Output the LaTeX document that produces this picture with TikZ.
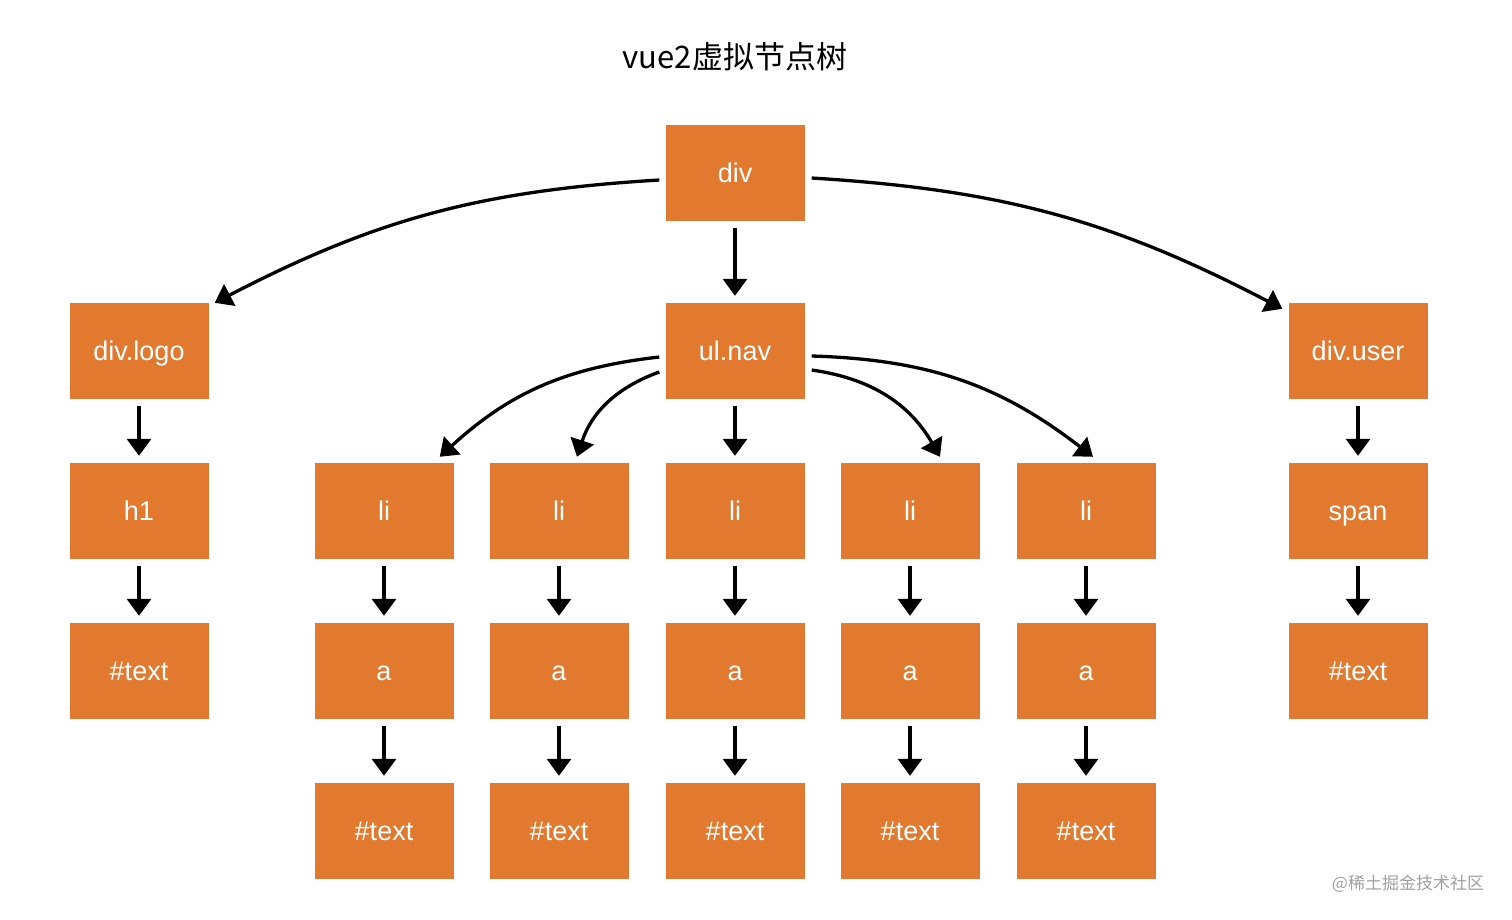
\documentclass[tikz,border=0pt]{standalone}
\usepackage{fontspec}
\setmainfont{Liberation Sans}
\newfontfamily\cjk{Noto Sans CJK SC}
\usepackage{tikz}
\usetikzlibrary{arrows.meta}

\definecolor{vnode}{RGB}{225,121,47}
\definecolor{mark}{RGB}{160,160,160}

\tikzset{
  vbox/.style={fill=vnode, text=white, minimum width=139pt, minimum height=96pt, inner sep=0pt,
    font=\fontsize{27}{30}\selectfont, text height=19.5pt, text depth=0pt},
  link/.style={line width=3.3pt, black, -{Triangle[length=17pt,width=24pt]}},
  down/.style={link, shorten <=7pt, shorten >=7pt}
}

\begin{document}
\begin{tikzpicture}[x=1pt,y=1pt]
\useasboundingbox (0,0) rectangle (1512,-919);
% title
\node[font=\cjk\fontsize{31}{34}\selectfont] (title) at (735,-57) {vue2虚拟节点树};

% root and second row
\node[vbox] (div) at (735,-173) {div};
\node[vbox] (logo) at (139,-351) {div.logo};
\node[vbox] (nav) at (735,-351) {ul.nav};
\node[vbox] (user) at (1358,-351) {div.user};

% left branch
\node[vbox] (h1) at (139,-511) {h1};
\node[vbox] (logotext) at (139,-671) {\#text};
% right branch
\node[vbox] (span) at (1358,-511) {span};
\node[vbox] (usertext) at (1358,-671) {\#text};

% li / a / #text columns
\foreach \i/\x in {1/384, 2/559, 3/735, 4/910, 5/1086}{
  \node[vbox] (li\i) at (\x,-511) {li};
  \node[vbox] (a\i) at (\x,-671) {a};
  \node[vbox] (t\i) at (\x,-831) {\#text};
  \draw[down] (li\i) -- (a\i);
  \draw[down] (a\i) -- (t\i);
}

% straight arrows
\draw[down] (div) -- (nav);
\draw[down] (nav) -- (li3);
\draw[down] (logo) -- (h1);
\draw[down] (h1) -- (logotext);
\draw[down] (user) -- (span);
\draw[down] (span) -- (usertext);

% curved arrows
\draw[link] ([shift={(-6,-7)}]div.west) to[bend right=12] ([shift={(6,0)}]logo.north east);
\draw[link] ([shift={(7,-5)}]div.east) to[bend left=12] ([shift={(-6,-6)}]user.north west);
\draw[link] ([shift={(-6,-6)}]nav.west) to[bend right=18] ([shift={(-14,6)}]li1.north east);
\draw[link] ([shift={(-6,-21)}]nav.west) to[bend right=26] ([shift={(18,6)}]li2.north);
\draw[link] ([shift={(7,-19)}]nav.east) to[bend left=26] ([shift={(30,6)}]li4.north);
\draw[link] ([shift={(7,-5)}]nav.east) to[bend left=18] ([shift={(7,6)}]li5.north);

% watermark
\node[font=\cjk\fontsize{17}{20}\selectfont, text=mark] (wm) at (1408,-884) {@稀土掘金技术社区};
\end{tikzpicture}
\end{document}
